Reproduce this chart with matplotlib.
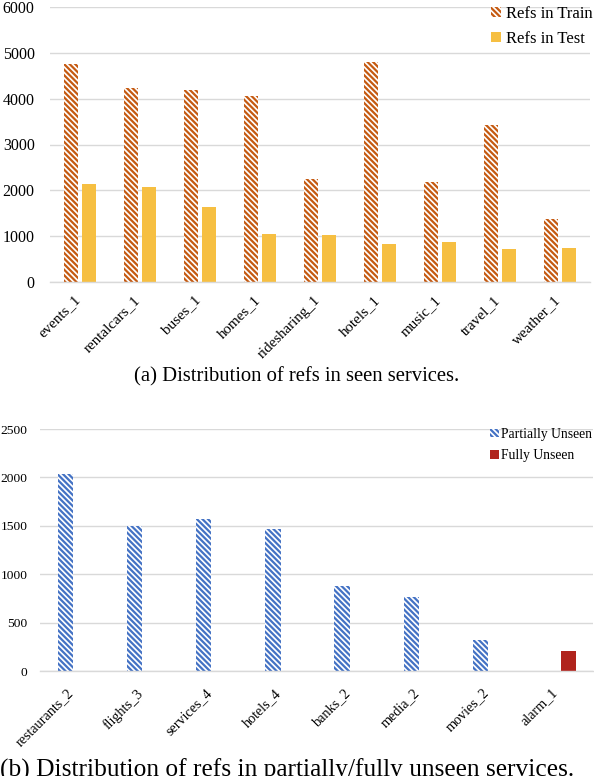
import numpy as np
import matplotlib
matplotlib.use("Agg")
import matplotlib.pyplot as plt

plt.rcParams["font.family"] = ["Liberation Serif", "DejaVu Serif"]
plt.rcParams["hatch.linewidth"] = 1.6

# seen services
seenServices = ["events_1", "rentalcars_1", "buses_1", "homes_1", "ridesharing_1",
                "hotels_1", "music_1", "travel_1", "weather_1"]
refsTrain = [4760, 4240, 4190, 4060, 2250, 4800, 2190, 3430, 1380]
refsTest = [2140, 2080, 1640, 1050, 1030, 830, 870, 720, 740]

# partially / fully unseen services
unseenServices = ["restaurants_2", "flights_3", "services_4", "hotels_4",
                  "banks_2", "media_2", "movies_2", "alarm_1"]
partiallyUnseen = [2035, 1500, 1573, 1470, 880, 768, 323, 0]
fullyUnseen = [0, 0, 0, 0, 0, 0, 0, 210]

trainColor = "#C55A11"
testColor = "#F6BF42"
partialColor = "#4472C4"
fullColor = "#B0231C"
gridColor = "#D9D9D9"
denseHatch = "\\" * 6

fig = plt.figure(figsize=(5.94, 7.76), dpi=100)


def style_axes(ax, fs, pad):
    for s in ["top", "right", "left"]:
        ax.spines[s].set_visible(False)
    ax.spines["bottom"].set_color(gridColor)
    ax.spines["bottom"].set_linewidth(1.0)
    ax.yaxis.grid(True, color=gridColor, linewidth=1.0)
    ax.set_axisbelow(True)
    ax.tick_params(axis="both", length=0, labelsize=fs)
    ax.tick_params(axis="y", pad=pad)


# (a)
ax1 = fig.add_axes([50 / 594, 1 - 282 / 776, 540 / 594, 275 / 776])
x = np.arange(len(seenServices))
ax1.bar(x - 0.15, refsTrain, 0.233, facecolor="white", edgecolor=trainColor,
        hatch=denseHatch, linewidth=0, label="Refs in Train")
ax1.bar(x + 0.15, refsTest, 0.233, color=testColor, label="Refs in Test")
ax1.set_xlim(-0.5, len(seenServices) - 0.5)
ax1.set_ylim(0, 6000)
ax1.set_yticks(range(0, 6001, 1000))
style_axes(ax1, 11.5, 11)
# labels sit a little left of the category centre (ticks are hidden)
ax1.set_xticks(x - 0.1)
ax1.set_xticklabels(seenServices, rotation=45, ha="right", va="top",
                    rotation_mode="anchor", fontsize=10.8)
ax1.tick_params(axis="x", pad=8)
ax1.legend(loc="upper right", bbox_to_anchor=(1.032, 1.059), frameon=False,
           fontsize=12, handlelength=0.6, handleheight=0.6, handletextpad=0.3,
           labelspacing=0.55)
fig.text(0.5, 1 - 377 / 776, "(a) Distribution of refs in seen services.",
         ha="center", va="center", fontsize=14.9)

# (b)
ax2 = fig.add_axes([40 / 594, 1 - 671 / 776, 553 / 594, 242 / 776])
x2 = np.arange(len(unseenServices))
ax2.bar(x2 - 0.13, partiallyUnseen, 0.22, facecolor="white",
        edgecolor=partialColor, hatch=denseHatch, linewidth=0,
        label="Partially Unseen")
ax2.bar(x2 + 0.145, fullyUnseen, 0.22, color=fullColor, label="Fully Unseen")
ax2.set_xlim(-0.5, len(unseenServices) - 0.5)
ax2.set_ylim(0, 2500)
ax2.set_yticks(range(0, 2501, 500))
style_axes(ax2, 9.7, 9)
ax2.set_xticks(x2 - 0.11)
ax2.set_xticklabels(unseenServices, rotation=45, ha="right", va="top",
                    rotation_mode="anchor", fontsize=10.2)
ax2.tick_params(axis="x", pad=11)
ax2.legend(loc="upper right", bbox_to_anchor=(1.021, 1.055), frameon=False,
           fontsize=9.8, handlelength=0.6, handleheight=0.6, handletextpad=0.2,
           labelspacing=0.6)
fig.text(0.0, -1 / 776,
         "(b) Distribution of refs in partially/fully unseen services.",
         ha="left", va="baseline", fontsize=18.3)

fig.savefig("out.png", dpi=100)
